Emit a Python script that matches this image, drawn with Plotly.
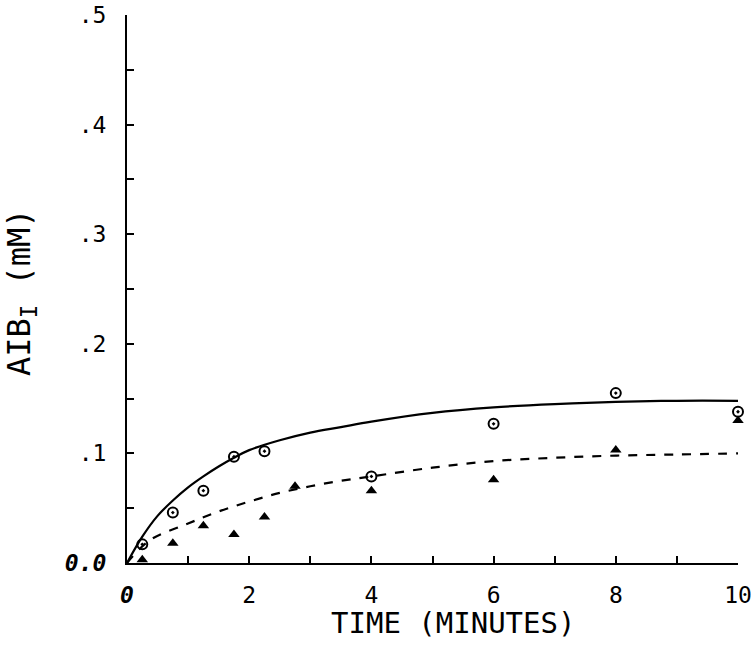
import plotly.graph_objects as go

# Observed data points
circle_time = [0.25, 0.75, 1.25, 1.75, 2.25, 4.0, 6.0, 8.0, 10.0]
circle_aib = [0.017, 0.046, 0.066, 0.097, 0.102, 0.079, 0.127, 0.155, 0.138]

tri_time = [0.25, 0.75, 1.25, 1.75, 2.25, 2.75, 4.0, 6.0, 8.0, 10.0]
tri_aib = [0.003, 0.018, 0.034, 0.026, 0.042, 0.070, 0.066, 0.076, 0.103, 0.130]

# Fitted curves
solid_time = [0, 0.25, 0.5, 0.75, 1.0, 1.25, 1.5, 1.75, 2.0, 2.5, 3.0, 3.5, 4.0, 5.0, 6.0, 7.0, 8.0, 9.0, 10.0]
solid_aib = [0, 0.024, 0.043, 0.057, 0.069, 0.079, 0.088, 0.096, 0.103, 0.112, 0.119, 0.124, 0.129, 0.137, 0.142, 0.145, 0.147, 0.148, 0.148]

dash_time = [0, 0.38, 1.0, 1.5, 2.0, 2.5, 3.0, 3.5, 4.0, 5.0, 6.0, 7.0, 8.0, 9.0, 10.0]
dash_aib = [0, 0.021, 0.036, 0.047, 0.056, 0.064, 0.070, 0.075, 0.079, 0.087, 0.093, 0.096, 0.098, 0.099, 0.100]

x_ticks = [0, 2, 4, 6, 8, 10]
x_ticktext = ["<b><i>0</i></b>", "2", "4", "6", "8", "10"]
y_ticks = [0, 0.1, 0.2, 0.3, 0.4, 0.5]
y_ticktext = ["<b><i>0.0</i></b>", ".1", ".2", ".3", ".4", ".5"]

FONT = "DejaVu Sans Mono"
W, H = 754, 656
L, R, T, B = 127, 16, 15, 656 - 563

fig = go.Figure()
fig.add_trace(go.Scatter(x=solid_time, y=solid_aib, mode="lines",
                         line=dict(color="black", width=2.2), line_shape="spline",
                         cliponaxis=False, showlegend=False))
fig.add_trace(go.Scatter(x=dash_time, y=dash_aib, mode="lines",
                         line=dict(color="black", width=2.2, dash="dash"), line_shape="spline",
                         cliponaxis=False, showlegend=False))
fig.add_trace(go.Scatter(x=circle_time, y=circle_aib, mode="markers",
                         marker=dict(symbol="circle-open-dot", size=10, color="black",
                                     line=dict(width=2, color="black")),
                         cliponaxis=False, showlegend=False))
fig.add_trace(go.Scatter(x=tri_time, y=tri_aib, mode="markers",
                         marker=dict(symbol="triangle-up", size=10, color="black"),
                         cliponaxis=False, showlegend=False))

fig.update_layout(
    width=W, height=H,
    margin=dict(l=L, r=R, t=T, b=B, autoexpand=False),
    paper_bgcolor="white", plot_bgcolor="white",
    font=dict(family=FONT, color="black", size=21),
    xaxis=dict(range=[0, 10], tickvals=x_ticks, ticktext=x_ticktext, automargin=False,
               showgrid=False, zeroline=False, showline=True, linewidth=2,
               linecolor="black", ticks="inside", ticklen=7, tickwidth=2,
               tickcolor="black", ticklabelstandoff=10,
               minor=dict(dtick=1, ticks="inside", ticklen=7, tickwidth=2, tickcolor="black"),
               tickfont=dict(family=FONT, size=23)),
    yaxis=dict(range=[0, 0.5], tickvals=y_ticks, ticktext=y_ticktext, automargin=False,
               showgrid=False, zeroline=False, showline=True, linewidth=2,
               linecolor="black", ticks="inside", ticklen=7, tickwidth=2,
               tickcolor="black", ticklabelstandoff=14,
               minor=dict(dtick=0.05, ticks="inside", ticklen=7, tickwidth=2, tickcolor="black"),
               tickfont=dict(family=FONT, size=23)),
    annotations=[
        dict(text="TIME (MINUTES)", x=453, y=623,
             showarrow=False, font=dict(family=FONT, size=29)),
        dict(text="AIB<sub>I</sub> (mM)", x=21, y=292, textangle=-90,
             showarrow=False, font=dict(family=FONT, size=32)),
    ],
)

# convert annotation page-pixel positions to paper coords
pw, ph = W - L - R, H - T - B
for ann in fig.layout.annotations:
    px, py = ann.x, ann.y
    ann.x = (px - L) / pw
    ann.y = (H - B - py) / ph
    ann.xref = "paper"
    ann.yref = "paper"
    ann.xanchor = "center"
    ann.yanchor = "middle"

fig.write_html("out.html", config={"displayModeBar": False},
               post_script="document.body.style.margin='0';document.body.style.overflow='hidden';")
